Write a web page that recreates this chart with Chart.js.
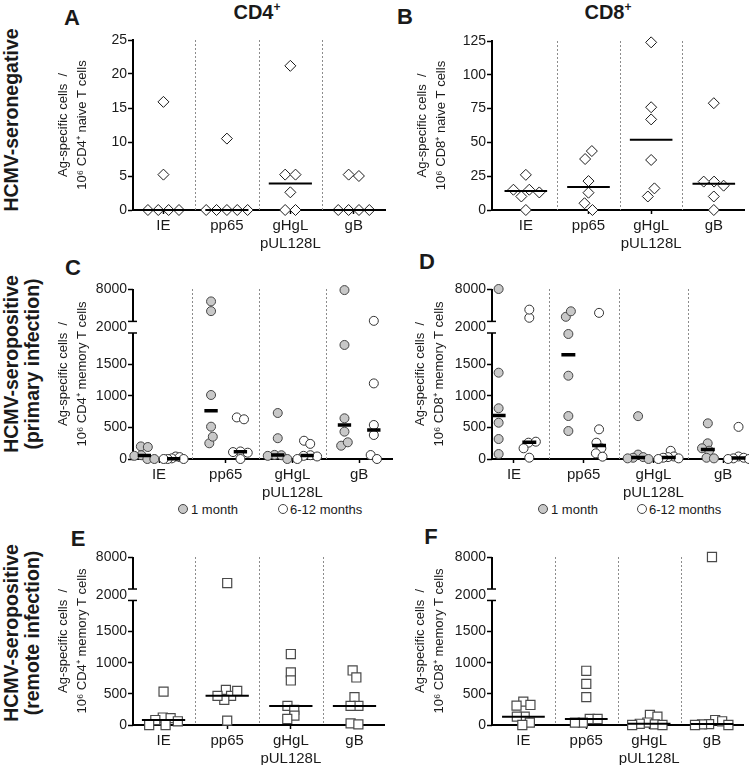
<!DOCTYPE html>
<html>
<head>
<meta charset="utf-8">
<script src="https://cdn.jsdelivr.net/npm/chart.js@4.4.1/dist/chart.umd.min.js"></script>
<style>
  body { margin: 0; width: 749px; height: 765px; position: relative; overflow: hidden; background: #fff;
         font-family: "Liberation Sans", Arial, Helvetica, sans-serif; color: #1a1a1a; }
  canvas { position: absolute; }
  .t { position: absolute; white-space: nowrap; transform: translate(-50%, -50%); }
  .b { font-weight: bold; }
  .rot { transform: translate(-50%, -50%) rotate(-90deg); text-align: center; }
  .leg { position: absolute; font-size: 13px; line-height: 13px; transform: translateY(-50%); white-space: nowrap; }
  .dot { position: absolute; width: 8px; height: 8px; border-radius: 50%; border: 1px solid #444; transform: translate(-50%, -50%); }
</style>
</head>
<body>

<div class="t b" style="left:72px;top:18px;font-size:22px">A</div>
<div class="t b" style="left:405px;top:17px;font-size:22px">B</div>
<div class="t b" style="left:73px;top:268px;font-size:22px">C</div>
<div class="t b" style="left:427px;top:262px;font-size:22px">D</div>
<div class="t b" style="left:78px;top:539px;font-size:22px">E</div>
<div class="t b" style="left:431px;top:537px;font-size:22px">F</div>

<div class="t b" style="left:257px;top:12px;font-size:20px">CD4<sup style="font-size:12px">+</sup></div>
<div class="t b" style="left:608px;top:12px;font-size:20px">CD8<sup style="font-size:12px">+</sup></div>

<div class="t b rot" style="left:11px;top:120px;font-size:19.5px">HCMV-seronegative</div>
<div class="t b rot" style="left:22px;top:364px;font-size:19.5px;line-height:21px">HCMV-seropositive<br>(primary infection)</div>
<div class="t b rot" style="left:22px;top:633px;font-size:19.5px;line-height:21px">HCMV-seropositive<br>(remote infection)</div>

<div class="dot" style="left:183px;top:509px;background:#c8c8c8"></div>
<div class="leg" style="left:191px;top:509px">1 month</div>
<div class="dot" style="left:283px;top:509px;background:#fff"></div>
<div class="leg" style="left:290px;top:509px">6-12 months</div>
<div class="dot" style="left:543px;top:509px;background:#c8c8c8"></div>
<div class="leg" style="left:551px;top:509px">1 month</div>
<div class="dot" style="left:642px;top:509px;background:#fff"></div>
<div class="leg" style="left:649px;top:509px">6-12 months</div>

<script>
// ── 資料 ─────────────────────────────────────────────────────
const antigens = [['IE'], ['pp65'], ['gHgL', 'pUL128L'], ['gB']];

// A: CD4+ naive, seronegative  (IE, pp65, gHgL/pUL128L, gB)
const cd4Naive = [
  [15.9, 5.2, 0, 0, 0, 0],
  [10.5, 0, 0, 0, 0, 0],
  [21.2, 5.2, 5.2, 2.6, 0, 0],
  [5.2, 5.0, 0, 0, 0, 0]
];
// B: CD8+ naive, seronegative
const cd8Naive = [
  [26, 15, 13, 10, 15, 0],
  [37.7, 43.6, 21.4, 12.8, 0, 5],
  [124, 76, 67, 37, 10, 16],
  [79, 21, 18, 21, 10, 0]
];
// C: CD4+ memory, primary infection
const cd4Primary1m = [
  [200, 190, 60, 50, 0, 0],
  [5700, 3900, 1016, 513, 249, 354],
  [730, 330, 65, 60, 50, 0],
  [7800, 1810, 646, 434, 211, 265]
];
const cd4Primary6m = [
  [40, 30, 10, 0, 0, 0],
  [660, 630, 120, 110, 100, 0],
  [290, 240, 60, 50, 40, 0],
  [2100, 1200, 540, 381, 63, 0]
];
// D: CD8+ memory, primary infection
const cd8Primary1m = [
  [8000, 1370, 805, 576, 317, 79],
  [2850, 3870, 1984, 1322, 682, 444],
  [680, 70, 30, 20, 10, 0],
  [566, 249, 132, 170, 20, 10]
];
const cd8Primary6m = [
  [2670, 4180, 259, 275, 170, 21],
  [3580, 471, 259, 170, 90, 37],
  [130, 40, 30, 20, 10, 0],
  [510, 40, 20, 10, 0, 0]
];
// E: CD4+ memory, remote infection
const cd4Remote = [
  [537, 120, 110, 80, 60, 0, 0],
  [3125, 565, 468, 403, 468, 548, 70],
  [1140, 844, 715, 306, 242, 150, 97],
  [876, 763, 447, 306, 306, 27, 10]
];
// F: CD8+ memory, remote infection
const cd8Remote = [
  [376, 322, 311, 134, 134, 37, 0],
  [871, 661, 447, 97, 97, 37, 37],
  [161, 134, 40, 20, 10, 0, 0],
  [8000, 80, 60, 15, 10, 0, 0]
];

const cd4NaiveTicks = [0, 5, 10, 15, 20, 25];
const cd8NaiveTicks = [0, 25, 50, 75, 100, 125];
const memoryTicks = [0, 500, 1000, 1500, 2000, 8000];

// ── 斷軸設定 ────────────────────────────────────────────────
const FONT = '"Liberation Sans", Arial, Helvetica, sans-serif';
const INK = '#1a1a1a';
const BRK = { at: 2000, gap: 184, k: 0.0857, top: 8000 };
const brokenMax = BRK.at + BRK.gap + (BRK.top - BRK.at) * BRK.k;

function fwd(v) { return v <= BRK.at ? v : BRK.at + BRK.gap + (v - BRK.at) * BRK.k; }
function inv(u) {
  if (u <= BRK.at) return u;
  if (u <= BRK.at + BRK.gap) return BRK.at;
  return BRK.at + (u - BRK.at - BRK.gap) / BRK.k;
}

class BrokenScale extends Chart.LinearScale {
  getPixelForValue(v) { return super.getPixelForValue(fwd(v)); }
  getValueForPixel(p) { return inv(super.getValueForPixel(p)); }
  getPixelForTick(i) {
    const t = this.ticks[i];
    if (!t) return null;
    if (t.value === BRK.at) return super.getPixelForValue(BRK.at + BRK.gap / 2);
    return this.getPixelForValue(t.value);
  }
}
BrokenScale.id = 'broken';
BrokenScale.defaults = Chart.LinearScale.defaults;
Chart.register(BrokenScale);

function median(a) {
  const s = [...a].sort((p, q) => p - q), n = s.length;
  return n % 2 ? s[(n - 1) / 2] : (s[n / 2 - 1] + s[n / 2]) / 2;
}

// 簡單的 beeswarm：避免點重疊，把每一團置中，太寬時壓縮
function swarm(vals, yPx, diam, groupPx, cap) {
  const placed = [];
  vals.forEach(v => {
    const py = yPx(v);
    const blocks = [];
    placed.forEach(p => {
      const dy = Math.abs(p.py - py);
      if (dy < diam) {
        const w = Math.sqrt(diam * diam - dy * dy);
        blocks.push([p.px - w, p.px + w]);
      }
    });
    const cands = [0];
    blocks.forEach(b => cands.push(b[0], b[1]));
    const sum = placed.reduce((s, p) => s + p.px, 0);
    const ok = cands.filter(c => blocks.every(b => c <= b[0] + 1e-6 || c >= b[1] - 1e-6));
    ok.sort((a, b) => (Math.abs(a) - Math.abs(b)) || (sum > 0 ? a - b : b - a));
    placed.push({ px: ok[0], py });
  });
  const n = placed.length, comp = new Array(n).fill(-1);
  let c = 0;
  for (let i = 0; i < n; i++) {
    if (comp[i] >= 0) continue;
    const stack = [i]; comp[i] = c;
    while (stack.length) {
      const k = stack.pop();
      for (let j = 0; j < n; j++) {
        if (comp[j] < 0 && Math.hypot(placed[j].px - placed[k].px, placed[j].py - placed[k].py) < diam * 1.01) {
          comp[j] = c; stack.push(j);
        }
      }
    }
    c++;
  }
  for (let g = 0; g < c; g++) {
    const idx = placed.map((p, i) => i).filter(i => comp[i] === g);
    const mean = idx.reduce((s, i) => s + placed[i].px, 0) / idx.length;
    idx.forEach(i => { placed[i].px -= mean; });
  }
  const offs = placed.map(p => p.px / groupPx);
  const widest = Math.max(...offs.map(Math.abs));
  const f = widest > cap ? cap / widest : 1;
  return offs.map(o => o * f);
}

const STYLES = {
  diamond: { shape: 'rectRot', r: 5.5, diam: 10.5, cap: 0.4, fill: '#fff', stroke: INK, bw: 1 },
  gray:    { shape: 'circle', r: 4.5, diam: 7.5, cap: 0.15, fill: '#c8c8c8', stroke: '#444', bw: 1 },
  white:   { shape: 'circle', r: 4.5, diam: 7.5, cap: 0.15, fill: '#fff', stroke: '#333', bw: 1 },
  square:  { shape: 'rect', r: 6.4, diam: 8, cap: 0.27, fill: '#fff', stroke: '#4a4a4a', bw: 1.2 }
};

function pointsDataset(groups, shift, p, st) {
  const data = [];
  groups.forEach((vals, c) => {
    const offs = swarm(vals, p.yPx, st.diam, p.groupPx, st.cap);
    vals.forEach((v, i) => data.push({ x: c + shift + offs[i], y: v }));
  });
  return {
    data, pointStyle: st.shape, pointRadius: st.r, pointHoverRadius: st.r,
    pointBackgroundColor: st.fill, pointBorderColor: st.stroke, pointBorderWidth: st.bw,
    showLine: false, clip: false, order: 2
  };
}

function medianDataset(groups, shift, half, width) {
  const data = [];
  groups.forEach((vals, c) => {
    const m = median(vals);
    data.push({ x: c + shift - half, y: m }, { x: c + shift + half, y: m }, { x: c + shift, y: null });
  });
  return {
    data, showLine: true, spanGaps: false, pointRadius: 0, pointHoverRadius: 0,
    borderColor: '#000', borderWidth: width, borderCapStyle: 'butt', clip: false, order: 1
  };
}

// ── 分隔線與斷軸 plugin ─────────────────────────────────────
const decor = {
  id: 'decor',
  beforeDatasetsDraw(chart) {
    const { ctx, chartArea: a, scales: { x, y } } = chart;
    ctx.save();
    ctx.strokeStyle = '#8c8c8c';
    ctx.lineWidth = 1;
    ctx.setLineDash([2, 2]);
    for (let i = 0; i < antigens.length - 1; i++) {
      const px = Math.round(x.getPixelForValue(i + 0.5)) + 0.5;
      ctx.beginPath(); ctx.moveTo(px, a.top); ctx.lineTo(px, a.bottom); ctx.stroke();
    }
    ctx.setLineDash([]);
    if (y instanceof BrokenScale) {
      const lo = y.getPixelForValue(BRK.at);
      const hi = Chart.LinearScale.prototype.getPixelForValue.call(y, BRK.at + BRK.gap);
      ctx.strokeStyle = '#000';
      ctx.lineWidth = 2;
      const seg = (x1, y1, x2, y2) => { ctx.beginPath(); ctx.moveTo(x1, y1); ctx.lineTo(x2, y2); ctx.stroke(); };
      seg(a.left, a.bottom + 1, a.left, lo);
      seg(a.left, hi, a.left, a.top);
      ctx.lineWidth = 1.5;
      seg(a.left - 5, lo, a.left + 4, lo);
      seg(a.left - 5, hi, a.left + 4, hi);
    }
    ctx.restore();
  }
};

// ── 建立面板 ────────────────────────────────────────────────
function makePanel(cfg) {
  const padTop = 15, axisH = 52, padRight = 3;
  const cv = document.createElement('canvas');
  const W = cfg.right + padRight - cfg.canvasLeft;
  const H = padTop + (cfg.bottom - cfg.top) + axisH;
  cv.width = W; cv.height = H;
  cv.style.left = cfg.canvasLeft + 'px';
  cv.style.top = (cfg.top - padTop) + 'px';
  document.body.appendChild(cv);

  const h = cfg.bottom - cfg.top;
  const p = {
    yPx: cfg.broken ? v => fwd(v) / brokenMax * h : v => v / cfg.ymax * h,
    groupPx: (cfg.right - cfg.left) / (cfg.xmax - cfg.xmin)
  };
  const datasets = cfg.build(p);

  new Chart(cv, {
    type: 'scatter',
    data: { datasets },
    options: {
      responsive: false, animation: false, devicePixelRatio: 1, events: [],
      layout: { padding: { top: padTop, right: padRight, left: 0, bottom: 0 } },
      plugins: { legend: { display: false }, tooltip: { enabled: false } },
      scales: {
        x: {
          type: 'linear', min: cfg.xmin, max: cfg.xmax,
          afterBuildTicks: ax => { ax.ticks = antigens.map((_, i) => ({ value: i })); },
          afterFit: ax => { ax.height = axisH; },
          grid: { display: true, drawOnChartArea: false, drawTicks: true, tickLength: 4, tickColor: '#000', tickWidth: 1.5 },
          border: { display: true, color: '#000', width: 2 },
          ticks: {
            autoSkip: false, maxRotation: 0, padding: 2, color: INK,
            font: { family: FONT, size: 15, lineHeight: 1.25 },
            callback: v => antigens[v]
          }
        },
        y: {
          type: cfg.broken ? 'broken' : 'linear', min: 0, max: cfg.broken ? brokenMax : cfg.ymax,
          afterBuildTicks: ax => { ax.ticks = cfg.ticks.map(v => ({ value: v })); },
          afterFit: ax => { ax.width = cfg.left - cfg.canvasLeft; },
          grid: {
            display: true, drawOnChartArea: false, drawTicks: true, tickLength: 5, tickWidth: 1.5,
            tickColor: c => (cfg.broken && c.tick && c.tick.value === BRK.at) ? 'rgba(0,0,0,0)' : '#000'
          },
          border: { display: !cfg.broken, color: '#000', width: 2 },
          ticks: { padding: 1, color: INK, font: { family: FONT, size: 14 }, callback: v => String(v) },
          title: {
            display: true, text: ['Ag-specific cells  /', cfg.title], color: INK,
            font: { family: FONT, size: 13, lineHeight: 1.45 }, padding: { top: 4, bottom: 0 }
          }
        }
      }
    },
    plugins: [decor]
  });
}

const single = (groups, st) => p => [
  pointsDataset(groups, 0, p, st),
  medianDataset(groups, 0, 0.34, 2)
];
const paired = (g1, g2) => p => [
  pointsDataset(g1, -0.22, p, STYLES.gray),
  pointsDataset(g2, 0.22, p, STYLES.white),
  medianDataset(g1, -0.22, 0.1, 3.5),
  medianDataset(g2, 0.22, 0.1, 3.5)
];

makePanel({ left: 133, right: 389, top: 40, bottom: 210, xmin: -0.48, xmax: 3.5, canvasLeft: 50,
  ymax: 25, ticks: cd4NaiveTicks, title: '10⁶ CD4⁺ naive T cells', build: single(cd4Naive, STYLES.diamond) });
makePanel({ left: 492, right: 748, top: 41, bottom: 210, xmin: -0.54, xmax: 3.49, canvasLeft: 409,
  ymax: 125, ticks: cd8NaiveTicks, title: '10⁶ CD8⁺ naive T cells', build: single(cd8Naive, STYLES.diamond) });
makePanel({ left: 133, right: 395, top: 289, bottom: 459, xmin: -0.39, xmax: 3.5, canvasLeft: 50,
  broken: true, ticks: memoryTicks, title: '10⁶ CD4⁺ memory T cells', build: paired(cd4Primary1m, cd4Primary6m) });
makePanel({ left: 492, right: 748, top: 289, bottom: 459, xmin: -0.315, xmax: 3.32, canvasLeft: 407,
  broken: true, ticks: memoryTicks, title: '10⁶ CD8⁺ memory T cells', build: paired(cd8Primary1m, cd8Primary6m) });
makePanel({ left: 133, right: 389, top: 557, bottom: 725, xmin: -0.48, xmax: 3.47, canvasLeft: 50,
  broken: true, ticks: memoryTicks, title: '10⁶ CD4⁺ memory T cells', build: single(cd4Remote, STYLES.square) });
makePanel({ left: 492, right: 748, top: 557, bottom: 725, xmin: -0.5, xmax: 3.5, canvasLeft: 407,
  broken: true, ticks: memoryTicks, title: '10⁶ CD8⁺ memory T cells', build: single(cd8Remote, STYLES.square) });
</script>
</body>
</html>
